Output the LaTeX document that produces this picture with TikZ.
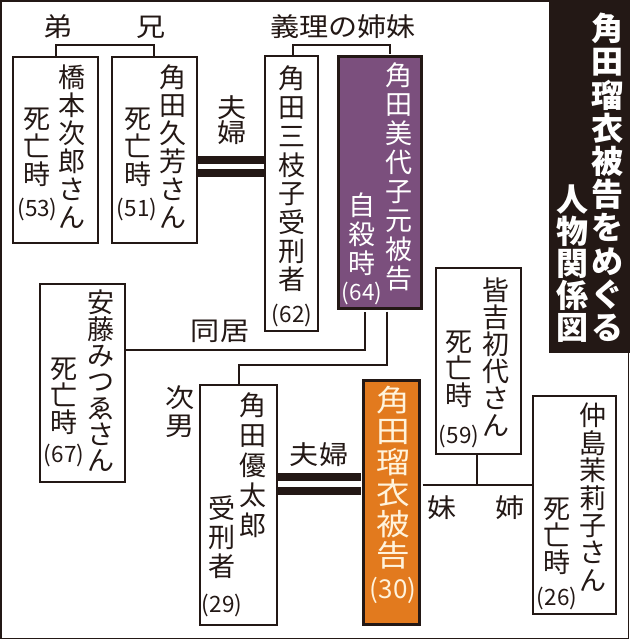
\documentclass[tikz,border=0pt]{standalone}
\usepackage{fontspec}
\newfontfamily\cjk{Noto Sans CJK JP}
\newfontfamily\cjkw[FakeStretch=1.12]{Noto Sans CJK JP}
\usetikzlibrary{calc}
\definecolor{ink}{RGB}{35,24,21}
\definecolor{purp}{RGB}{123,79,125}
\definecolor{orng}{RGB}{226,122,30}
\definecolor{cream}{RGB}{255,243,220}
\begin{document}
\begin{tikzpicture}[x=1pt,y=-1pt,
  person/.style={draw=ink,line width=1.2pt,inner sep=0pt,fill=white},
  hlbox/.style={draw=ink,line width=3pt,inner sep=0pt},
  col/.style={font=\cjk\fontsize{27}{#1}\selectfont,align=center,inner sep=0pt,text=ink,anchor=north},
  col/.default=28,
  age/.style={font=\cjk\fontsize{22.5}{22.5}\selectfont,inner sep=0pt,text=ink},
  lbl/.style={font=\cjkw\fontsize{26}{26}\selectfont,inner sep=0pt,text=ink},
  vlbl/.style={font=\cjkw\fontsize{26}{#1}\selectfont,align=center,inner sep=0pt,text=ink,anchor=north},
  ttl/.style={font=\cjk\bfseries\fontsize{32}{#1}\selectfont,align=center,inner sep=0pt,text=white,anchor=north},
  conn/.style={draw=ink,line width=1.2pt},
  wed/.style={draw=ink,line width=7.5pt}]
\useasboundingbox (0,0) rectangle (630,640);
\fill[white] (0,0) rectangle (630,640);
\draw[ink,line width=1.5pt] (1,1) rectangle (628.5,638.5);
% title
\node[fill=ink,inner sep=0pt,minimum width=81pt,minimum height=353pt] (title) at (589.5,176.5) {};
\node[ttl=33.2] (titleA) at (607,13) {角\\田\\瑠\\衣\\被\\告\\を\\め\\ぐ\\る};
\node[ttl=32] (titleB) at (572,185) {人\\物\\関\\係\\図};
% boxes
\node[person,minimum width=85pt,minimum height=186pt] (hashimoto) at (55.5,150) {};
\node[person,minimum width=85pt,minimum height=186pt] (hisayoshi) at (154.5,150) {};
\node[person,minimum width=53pt,minimum height=275pt] (mieko) at (291.5,193.5) {};
\node[hlbox,fill=purp,minimum width=83pt,minimum height=252pt] (miyoko) at (380,182.5) {};
\node[person,minimum width=85pt,minimum height=198pt] (ando) at (82.5,383) {};
\node[person,minimum width=77pt,minimum height=240pt] (yutaro) at (238.5,505) {};
\node[hlbox,fill=orng,minimum width=56pt,minimum height=244pt] (rui) at (391.5,502.5) {};
\node[person,minimum width=85pt,minimum height=186pt] (hatsuyo) at (478.5,361) {};
\node[person,minimum width=83pt,minimum height=218pt] (mariko) at (574.5,505) {};
% texts in boxes
\node[col] (hashimotoA) at (72,65) {橋\\本\\次\\郎\\さ\\ん};
\node[col] (hashimotoB) at (37,108) {死\\亡\\時};
\node[age] (hashimotoC) at (37.5,209.5) {(53)};
\node[col] (hisayoshiA) at (173,65) {角\\田\\久\\芳\\さ\\ん};
\node[col] (hisayoshiB) at (138,108) {死\\亡\\時};
\node[age] (hisayoshiC) at (137,209.5) {(51)};
\node[col=28.7] (miekoA) at (292,66) {角\\田\\三\\枝\\子\\受\\刑\\者};
\node[age] (miekoB) at (292,315.5) {(62)};
\node[col=29,text=white] (miyokoA) at (399,63) {角\\田\\美\\代\\子\\元\\被\\告};
\node[col=29,text=white] (miyokoB) at (362,193) {自\\殺\\時};
\node[age,text=white] (miyokoC) at (362,293) {(64)};
\node[col=26.3] (andoA) at (101,290) {安\\藤\\み\\つ\\ゑ\\さ\\ん};
\node[col=27] (andoB) at (64,358) {死\\亡\\時};
\node[age] (andoC) at (64,455) {(67)};
\node[col=30] (yutaroA) at (253,393) {角\\田\\優\\太\\郎};
\node[col=29] (yutaroB) at (222,496) {受\\刑\\者};
\node[age] (yutaroC) at (222,605) {(29)};
\node[font=\cjkw\fontsize{30}{31}\selectfont,align=center,inner sep=0pt,text=cream,anchor=north] (ruiA) at (393,386) {角\\田\\瑠\\衣\\被\\告};
\node[font=\cjk\fontsize{26}{26}\selectfont,inner sep=0pt,text=cream] (ruiB) at (393,590) {(30)};
\node[col=27] (hatsuyoA) at (496,278) {皆\\吉\\初\\代\\さ\\ん};
\node[col=27] (hatsuyoB) at (459,331) {死\\亡\\時};
\node[age] (hatsuyoC) at (459,436) {(59)};
\node[col=27.4] (marikoA) at (593,403) {仲\\島\\茉\\莉\\子\\さ\\ん};
\node[col=27] (marikoB) at (557,498) {死\\亡\\時};
\node[age] (marikoC) at (557,598) {(26)};
% labels
\node[lbl] (ototo) at (58,27) {弟};
\node[lbl] (ani) at (151,27) {兄};
\node[lbl] (giri) at (343,27) {義理の姉妹};
\node[vlbl=25] (fufuA) at (232,95) {夫\\婦};
\node[lbl] (dokyo) at (220,331) {同居};
\node[vlbl=27.5] (jinan) at (180,386) {次\\男};
\node[lbl] (fufuB) at (319,454.5) {夫婦};
\node[lbl] (imoto) at (442,508) {妹};
\node[lbl] (ane) at (510,508) {姉};
% connectors
\coordinate (brA) at (56,45);
\coordinate (brB) at (154,45);
\draw[conn] (hashimoto.north -| brA) -- (brA) -- (brB) -- (hisayoshi.north -| brB);
\coordinate (brC) at (293,45);
\coordinate (brD) at (390,45);
\draw[conn] (mieko.north -| brC) -- (brC) -- (brD) -- ($(miyoko.north -| brD)+(0,-1.5)$);
\draw[wed] ($(hisayoshi.east)+(0,10)$) -- ($(mieko.west)+(0,-33.5)$);
\draw[wed] ($(hisayoshi.east)+(0,23)$) -- ($(mieko.west)+(0,-20.5)$);
\draw[wed] ($(yutaro.east)+(0,-28)$) -- ($(rui.west)+(-1.5,-25.5)$);
\draw[wed] ($(yutaro.east)+(0,-14)$) -- ($(rui.west)+(-1.5,-11.5)$);
\coordinate (dkA) at (365,350);
\draw[conn] (ando.east |- dkA) -- (dkA) -- ($(miyoko.south -| dkA)+(0,1.5)$);
\coordinate (jnA) at (387,365);
\coordinate (jnB) at (239,365);
\draw[conn] ($(miyoko.south -| jnA)+(0,1.5)$) -- (jnA) -- (jnB) -- (yutaro.north -| jnB);
\coordinate (sisA) at (477,485);
\draw[conn] (hatsuyo.south -| sisA) -- (sisA);
\draw[conn] ($(rui.east |- sisA)+(1.5,0)$) -- (mariko.west |- sisA);
\end{tikzpicture}
\end{document}
